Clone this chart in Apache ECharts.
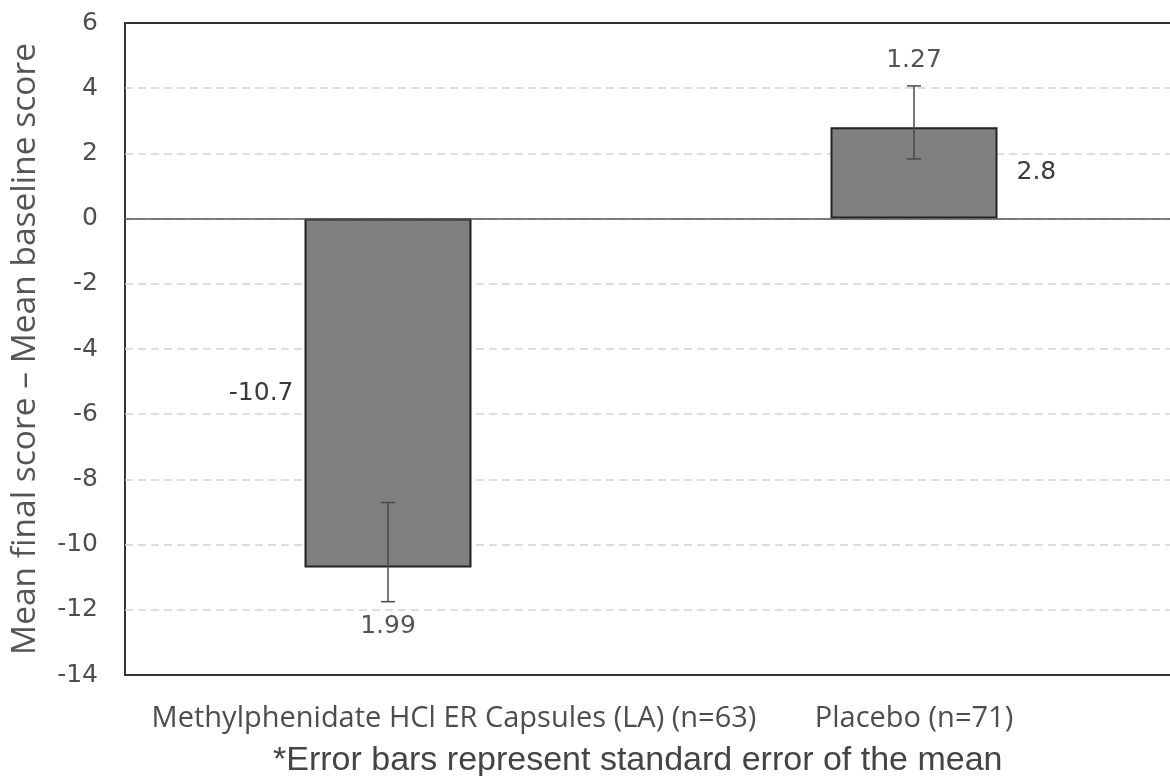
<!DOCTYPE html>
<html>
<head>
<meta charset="utf-8">
<script src="https://cdn.jsdelivr.net/npm/echarts@6/dist/echarts.min.js"></script>
<style>
html,body{margin:0;padding:0;background:#fff;}
#chart{width:1170px;height:776px;}
</style>
</head>
<body>
<div id="chart"></div>
<script>
// ---- data ----
const categories = ['Methylphenidate HCl ER Capsules (LA) (n=63)', 'Placebo (n=71)'];
const meanChange = [-10.7, 2.8];
const seValues = [1.99, 1.27];
const errLow = [-11.75, 1.83];
const errHigh = [-8.71, 4.07];
const yMin = -14, yMax = 6, yStep = 2;
const yAxisTitle = 'Mean final score \u2013 Mean baseline score';
const footnote = '*Error bars represent standard error of the mean';

const chart = echarts.init(document.getElementById('chart'), null, {renderer: 'canvas'});

const barData = meanChange.map(v => ({
  value: v,
  label: { position: v < 0 ? 'left' : 'right', distance: v < 0 ? 11 : 19 }
}));

const errData = categories.map((c, i) => [i, errLow[i], errHigh[i], seValues[i], meanChange[i]]);

const option = {
  animation: false,
  backgroundColor: '#fff',
  grid: {
    left: 125, top: 23, width: 1052, height: 652,
    outerBoundsMode: 'none',
    show: true, borderColor: '#333', borderWidth: 2, backgroundColor: 'transparent'
  },
  title: {
    text: footnote, left: 273, top: 744, padding: 0,
    textStyle: { fontFamily: 'Liberation Sans', fontSize: 34, fontWeight: 'normal', color: '#444' }
  },
  xAxis: {
    type: 'category',
    data: categories,
    axisLine: { show: false, onZero: false },
    axisTick: { show: false },
    splitLine: { show: false },
    axisLabel: {
      interval: 0, margin: 29,
      formatter: (v, i) => (i === 0 ? '{a|' + v + '}' : '{b|' + v + '}'),
      rich: {
        a: { fontFamily: 'Open Sans', fontSize: 29, color: '#4d4d4d', padding: [0, 0, 0, 132] },
        b: { fontFamily: 'Open Sans', fontSize: 29, color: '#4d4d4d' }
      }
    }
  },
  yAxis: {
    type: 'value',
    min: yMin, max: yMax, interval: yStep,
    name: yAxisTitle,
    nameLocation: 'middle',
    nameGap: 83,
    nameTextStyle: { fontFamily: 'Open Sans', fontSize: 33.5, color: '#555' },
    axisLine: { show: false },
    axisTick: { show: false },
    axisLabel: { fontFamily: 'DejaVu Sans', fontSize: 25, color: '#4d4d4d', margin: 27 },
    splitLine: { show: true, showMinLine: false, showMaxLine: false,
      lineStyle: { color: '#d4d4d4', width: 1.5, type: [8, 5] } }
  },
  series: [
    {
      type: 'bar',
      data: barData,
      barWidth: 167,
      itemStyle: { color: '#808080', borderColor: '#222', borderWidth: 2 },
      label: {
        show: true,
        fontFamily: 'DejaVu Sans', fontSize: 25, color: '#3a3a3a',
        formatter: p => String(p.value)
      },
      markLine: {
        silent: true, symbol: 'none',
        label: { show: false },
        lineStyle: { color: '#555', width: 1.5, type: 'solid' },
        data: [{ yAxis: 0 }]
      },
      z: 2
    },
    {
      type: 'custom',
      data: errData,
      z: 5,
      renderItem: function (params, api) {
        const x = api.value(0);
        const lo = api.coord([x, api.value(1)]);
        const hi = api.coord([x, api.value(2)]);
        const se = api.value(3);
        const mean = api.value(4);
        const cx = lo[0];
        const cap = 7;
        const st = { stroke: '#4a4a4a', lineWidth: 1.5 };
        const children = [
          { type: 'line', shape: { x1: cx, y1: lo[1], x2: cx, y2: hi[1] }, style: st },
          { type: 'line', shape: { x1: cx - cap, y1: lo[1], x2: cx + cap, y2: lo[1] }, style: st },
          { type: 'line', shape: { x1: cx - cap, y1: hi[1], x2: cx + cap, y2: hi[1] }, style: st }
        ];
        if (mean < 0) {
          children.push({ type: 'text', x: cx, y: lo[1] + 12,
            style: { text: se.toFixed(2), textAlign: 'center', textVerticalAlign: 'top',
              font: '25px "DejaVu Sans"', fill: '#555' } });
        } else {
          children.push({ type: 'text', x: cx, y: hi[1] - 13,
            style: { text: se.toFixed(2), textAlign: 'center', textVerticalAlign: 'bottom',
              font: '25px "DejaVu Sans"', fill: '#555' } });
        }
        return { type: 'group', children: children };
      }
    }
  ]
};
chart.setOption(option);
</script>
</body>
</html>
